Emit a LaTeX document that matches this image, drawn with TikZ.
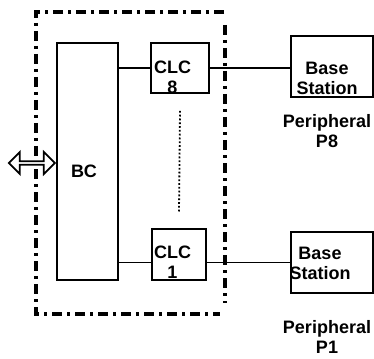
\documentclass[tikz,border=0pt]{standalone}
\usepackage{fontspec}
\setmainfont{Liberation Sans}
\usetikzlibrary{shapes,arrows}

\tikzset{
	blk/.style={draw, line width=1.8pt, inner sep=0pt},
	txt/.style={font=\fontsize{18}{20}\selectfont\bfseries, align=center, inner sep=0pt},
	frm/.style={line width=3.2pt, dash pattern=on 10pt off 5pt on 3pt off 5pt},
	wire/.style={line width=1.8pt}
}

\begin{document}
\begin{tikzpicture}[x=1pt, y=-1pt]
	\useasboundingbox (0,0) rectangle (374,358);
	\draw[frm] (224,12) -- (36,12) -- (36,314) -- (220,314);
	\draw[frm] (225,25) -- (225,303);
	\node[blk, minimum width=61pt, minimum height=237pt] (bc) at (87.5,161.5) {};
	\node[blk, minimum width=58pt, minimum height=50pt] (clc8) at (180,68) {};
	\node[blk, minimum width=54pt, minimum height=51pt] (clc1) at (179,254.5) {};
	\node[blk, minimum width=82pt, minimum height=61pt] (bs8) at (332,66.5) {};
	\node[blk, minimum width=82pt, minimum height=61pt] (bs1) at (332,262.5) {};
	\node[draw, fill=white, double arrow, line width=1.8pt, inner sep=0pt,
		minimum height=46pt, minimum width=22pt, double arrow head extend=5pt,
		anchor=east] (io) at (bc.west |- 0,163) {};
	\draw[wire] (bc.east |- clc8.west) -- (clc8.west);
	\draw[wire] (bc.east |- bs1.west) -- (clc1.west |- bs1.west);
	\draw[wire] (clc8.east) -- (bs8.west |- clc8.east);
	\draw[wire] (clc1.east |- bs1.west) -- (bs1.west);
	\draw[wire, dotted] ([yshift=-17pt]clc8.south) -- ([yshift=16pt]clc1.north);
	\node[txt] (bctxt) at (84,171) {BC};
	\node[txt] (clc8txt) at (172.5,77.5) {CLC\\8};
	\node[txt] (clc1txt) at (172.5,262.5) {CLC\\1};
	\node[txt] (bs8txt) at (327,78) {Base\\Station};
	\node[txt] (bs1txt) at (320,263) {Base\\Station};
	\node[txt] (p8txt) at (327,131) {Peripheral\\P8};
	\node[txt] (p1txt) at (327,337) {Peripheral\\P1};
\end{tikzpicture}
\end{document}
